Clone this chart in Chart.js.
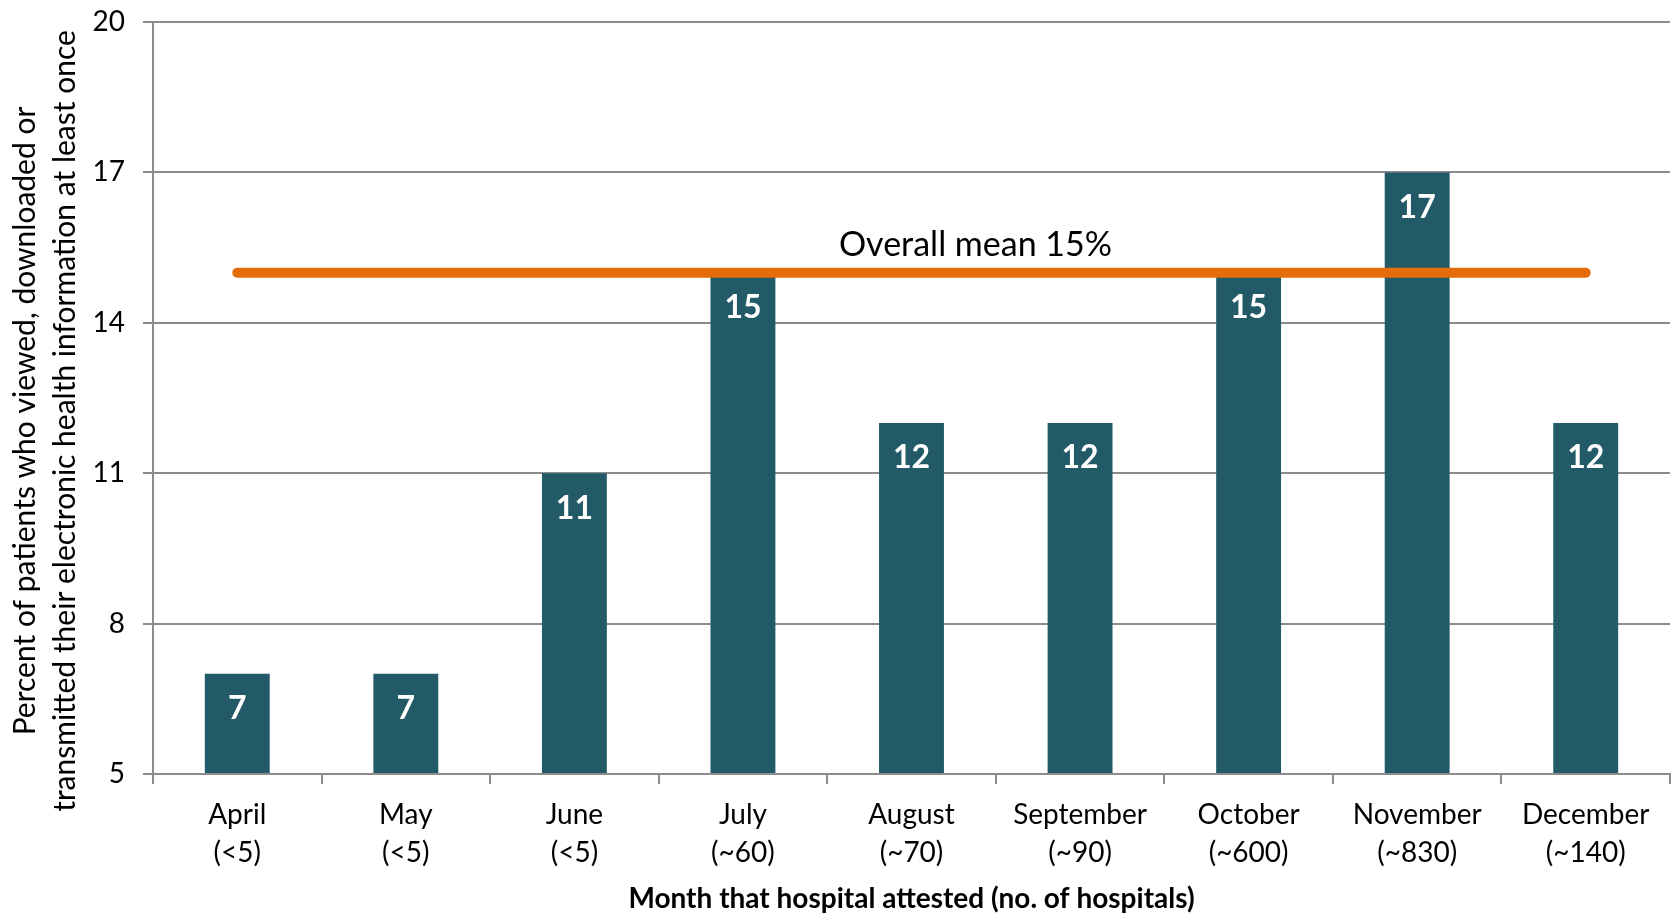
<!DOCTYPE html>
<html>
<head>
<meta charset="utf-8">
<script src="https://cdn.jsdelivr.net/npm/chart.js@4"></script>
<style>
  html, body { margin: 0; padding: 0; background: #fff; }
  #wrap { width: 1672px; height: 913px; }
</style>
</head>
<body>
<div id="wrap"><canvas id="chart" width="1672" height="913"></canvas></div>
<script>
// DATA
const months = ["April", "May", "June", "July", "August", "September", "October", "November", "December"];
const hospitals = ["(<5)", "(<5)", "(<5)", "(~60)", "(~70)", "(~90)", "(~600)", "(~830)", "(~140)"];
const percentViewed = [7, 7, 11, 15, 12, 12, 15, 17, 12];
const overallMean = [15, 15, 15, 15, 15, 15, 15, 15, 15];
const yTicks = [5, 8, 11, 14, 17, 20];
const yTitle = [
  "Percent of patients who viewed, downloaded or",
  "transmitted their electronic health information at least once",
];

const FONT = "Lato, 'Open Sans', sans-serif";
const GRID = "#8c8c8c";

// white value labels inside the top of each bar
const barLabels = {
  id: "barLabels",
  afterDatasetsDraw(chart) {
    const ctx = chart.ctx;
    const meta = chart.getDatasetMeta(1);
    ctx.save();
    ctx.fillStyle = "#ffffff";
    ctx.font = "bold 32px " + FONT;
    ctx.textAlign = "center";
    ctx.textBaseline = "middle";
    meta.data.forEach((bar, i) => {
      ctx.fillText(percentViewed[i], bar.x, bar.y + 35);
    });
    ctx.restore();
  }
};

// "Overall mean 15%" above the mean line
const meanLabel = {
  id: "meanLabel",
  afterDatasetsDraw(chart) {
    const ctx = chart.ctx;
    const y = chart.scales.y.getPixelForValue(overallMean[0]);
    const x = (chart.chartArea.left + chart.chartArea.right) / 2 + 64;
    ctx.save();
    ctx.fillStyle = "#000";
    ctx.font = "34px " + FONT;
    ctx.textAlign = "center";
    ctx.textBaseline = "middle";
    ctx.fillText("Overall mean 15%", x, y - 28);
    ctx.restore();
  }
};

// rotated two-line y axis title
const yAxisTitle = {
  id: "yAxisTitle",
  afterDraw(chart) {
    const ctx = chart.ctx;
    const cy = 421;
    ctx.save();
    ctx.fillStyle = "#000";
    ctx.font = "30px " + FONT;
    ctx.textAlign = "center";
    ctx.textBaseline = "alphabetic";
    [35, 75].forEach((bx, i) => {
      ctx.save();
      ctx.translate(bx, cy);
      ctx.rotate(-Math.PI / 2);
      ctx.fillText(yTitle[i], 0, 0);
      ctx.restore();
    });
    ctx.restore();
  }
};

const ctx = document.getElementById("chart");

new Chart(ctx, {
  data: {
    labels: months.map((m, i) => [m, hospitals[i]]),
    datasets: [
      {
        type: "line",
        label: "Overall mean",
        data: overallMean,
        borderColor: "#e46c0a",
        borderWidth: 10,
        borderCapStyle: "round",
        pointRadius: 0,
        fill: false,
        order: 0,
      },
      {
        type: "bar",
        label: "Percent",
        data: percentViewed,
        backgroundColor: "#235a67",
        borderWidth: 0,
        barPercentage: 0.385,
        categoryPercentage: 1,
        base: 5,
        order: 1,
      },
    ],
  },
  options: {
    responsive: false,
    animation: false,
    layout: {
      padding: { top: 22, right: 2, left: 0, bottom: 0 },
    },
    plugins: {
      legend: { display: false },
      tooltip: { enabled: false },
    },
    scales: {
      x: {
        grid: {
          offset: true,
          drawOnChartArea: false,
          drawTicks: true,
          tickLength: 10,
          color: GRID,
          lineWidth: 2,
        },
        border: { color: GRID, width: 2 },
        ticks: {
          color: "#000",
          font: { family: FONT, size: 28, lineHeight: 1.36 },
          padding: 12,
          maxRotation: 0,
          autoSkip: false,
        },
        title: {
          display: true,
          text: "Month that hospital attested (no. of hospitals)",
          color: "#000",
          font: { family: FONT, size: 28, weight: "bold" },
          padding: { top: 6, bottom: -3 },
        },
        afterFit(scale) {
          scale.height = 139;
          scale.paddingLeft = 0;
          scale.paddingRight = 0;
        },
      },
      y: {
        min: 5,
        max: 20,
        afterBuildTicks(scale) {
          scale.ticks = yTicks.map((v) => ({ value: v }));
        },
        grid: {
          color: GRID,
          lineWidth: 2,
          drawTicks: true,
          tickLength: 10,
        },
        border: { color: GRID, width: 2 },
        ticks: {
          color: "#000",
          font: { family: FONT, size: 28 },
          padding: 18,
        },
        afterFit(scale) {
          scale.width = 153;
          scale.paddingTop = 0;
          scale.paddingBottom = 0;
        },
      },
    },
  },
  plugins: [barLabels, meanLabel, yAxisTitle],
});
</script>
</body>
</html>
